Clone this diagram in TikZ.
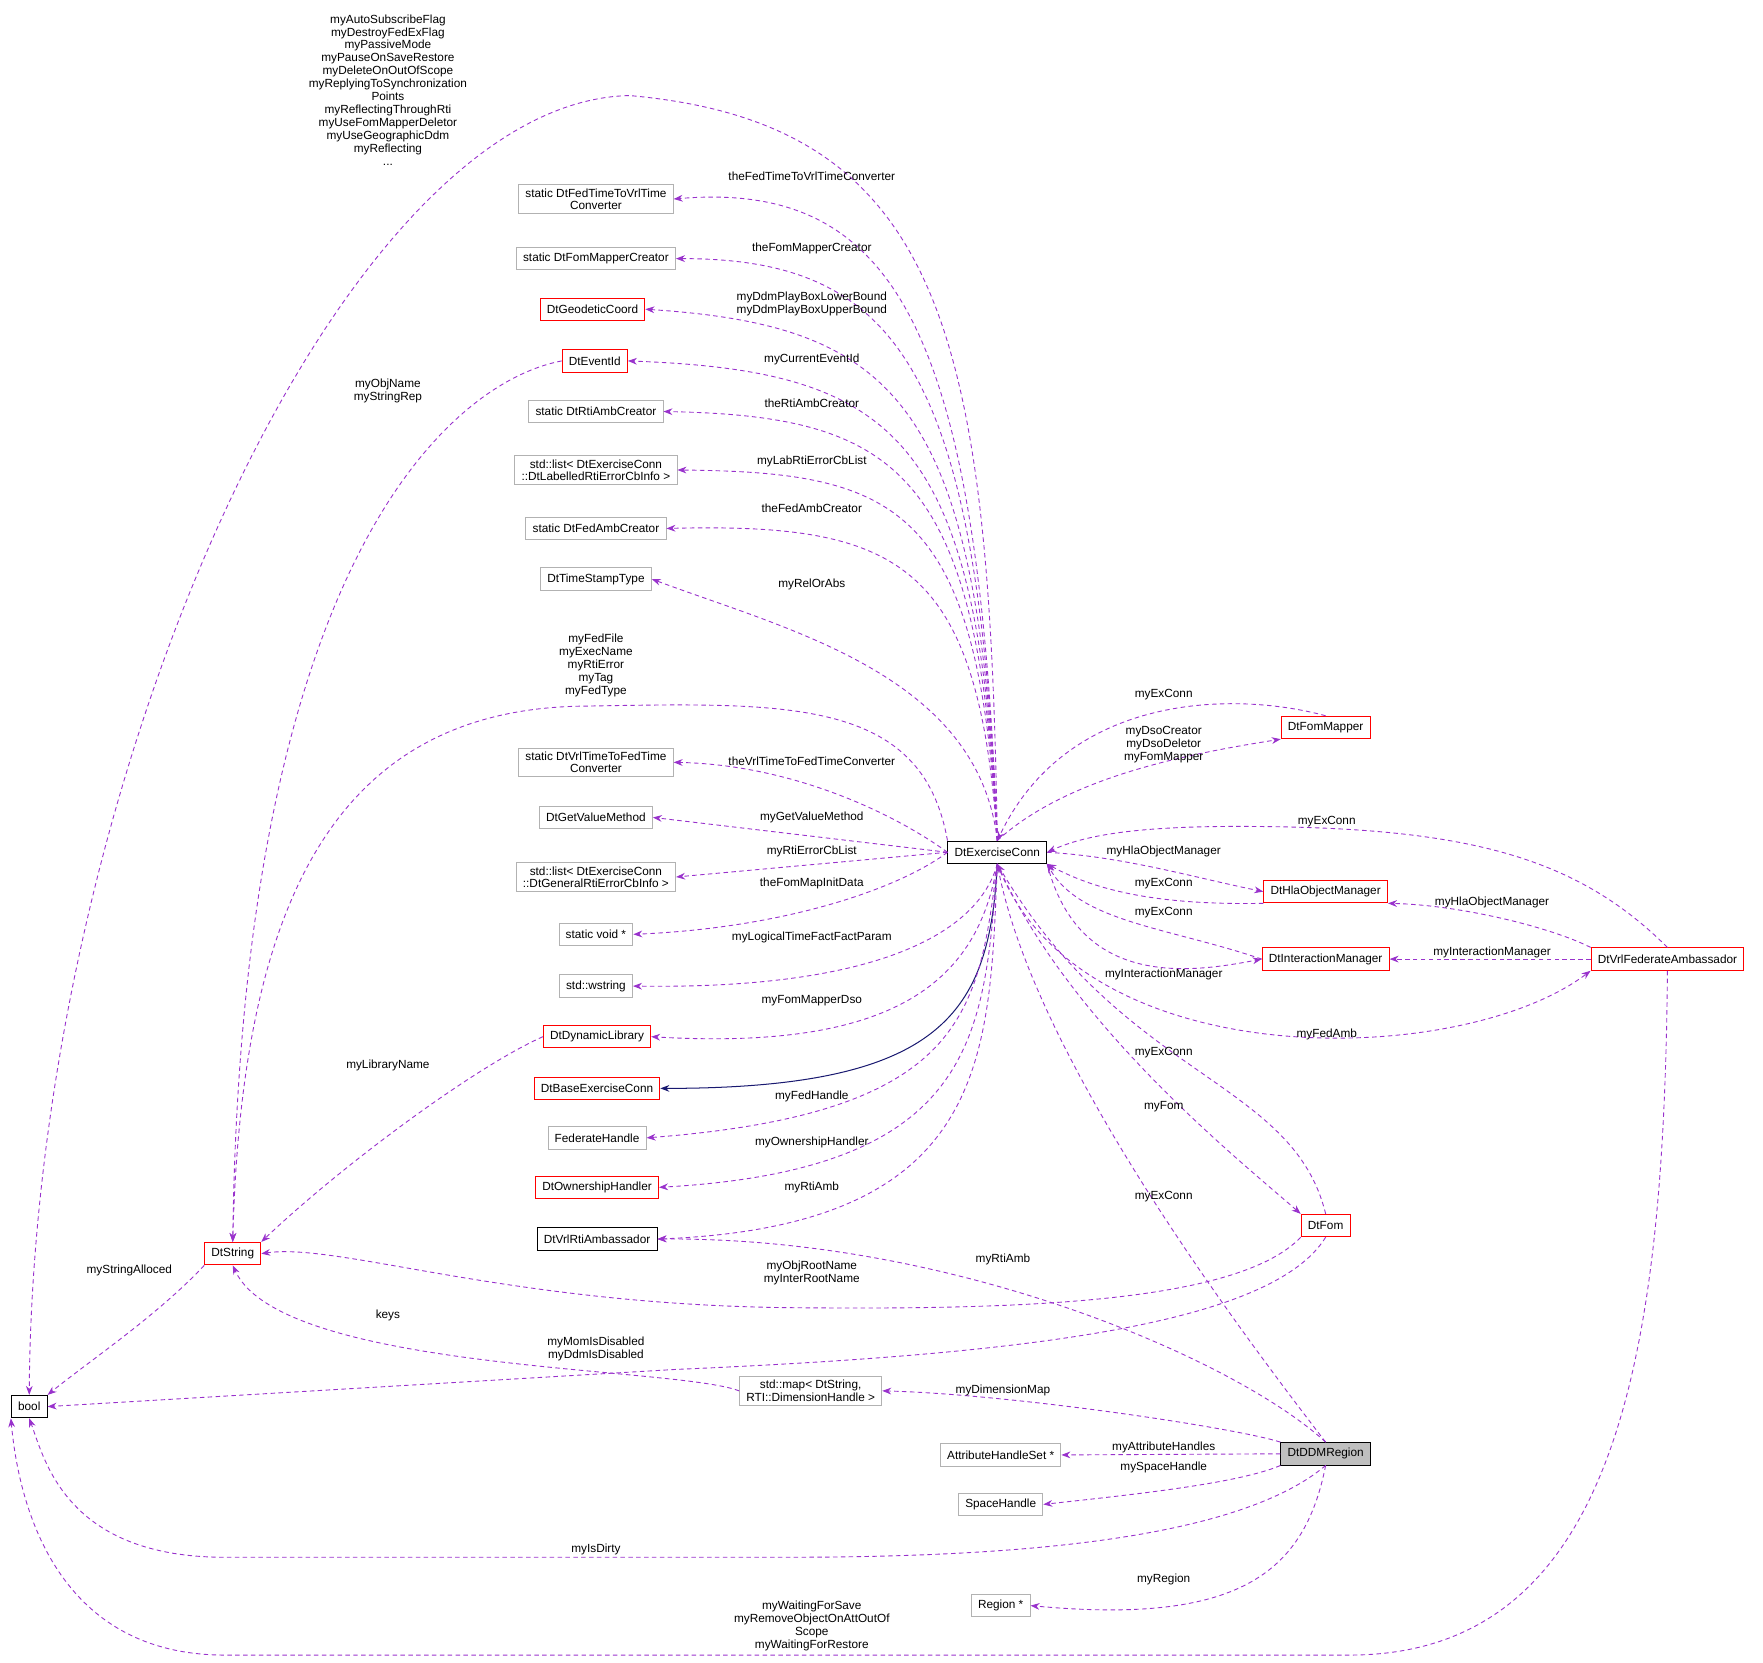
\documentclass[tikz,border=0pt]{standalone}
\usepackage{fontspec}
\setmainfont{Liberation Sans}
\usetikzlibrary{arrows.meta}
\begin{document}
\begin{tikzpicture}[x=1pt,y=-1pt,
  box/.style={draw=#1,fill=white,inner xsep=6pt,minimum height=20pt,align=center,font=\fontsize{10.5}{11}\selectfont,line width=0.8pt},
  box/.default=black!30,
  dep/.style={draw={rgb,255:red,153;green,50;blue,204},dashed,line width=0.8pt,dash pattern=on 4pt off 3pt,-{Stealth[length=8pt,width=6pt]}},
  inh/.style={draw={rgb,255:red,25;green,25;blue,112},line width=0.9pt,-{Stealth[length=8pt,width=6pt]}},
  lbl/.style={font=\fontsize{10.5}{11.5}\selectfont,align=center,inner sep=0pt}]
\useasboundingbox (0,0) rectangle (1568,1479);
% nodes
\node[box=black] (bool) at (26,1251) {bool};
\node[box=red] (str) at (207,1115) {DtString};
\node[box=black] (ex) at (887,758) {DtExerciseConn};
\node[box] (n1) at (530,177) {static DtFedTimeToVrlTime\\Converter};
\node[box] (n2) at (530,230) {static DtFomMapperCreator};
\node[box=red] (n3) at (527,275) {DtGeodeticCoord};
\node[box=red] (ev) at (529,321) {DtEventId};
\node[box] (n5) at (530,366) {static DtRtiAmbCreator};
\node[box] (n6) at (530,418) {std::list< DtExerciseConn\\::DtLabelledRtiErrorCbInfo >};
\node[box] (n7) at (530,470) {static DtFedAmbCreator};
\node[box] (n8) at (530,515) {DtTimeStampType};
\node[box] (n9) at (530,678) {static DtVrlTimeToFedTime\\Converter};
\node[box] (n10) at (530,727) {DtGetValueMethod};
\node[box] (n11) at (530,780) {std::list< DtExerciseConn\\::DtGeneralRtiErrorCbInfo >};
\node[box] (n12) at (530,831) {static void *};
\node[box] (n13) at (530,877) {std::wstring};
\node[box=red] (dyn) at (531,922) {DtDynamicLibrary};
\node[box=red] (base) at (531,968) {DtBaseExerciseConn};
\node[box] (fh) at (531,1012) {FederateHandle};
\node[box=red] (own) at (531,1056) {DtOwnershipHandler};
\node[box=black] (vra) at (531,1102) {DtVrlRtiAmbassador};
\node[box] (map) at (721,1237) {std::map< DtString,\\ RTI::DimensionHandle >};
\node[box] (attr) at (890,1294) {AttributeHandleSet *};
\node[box] (space) at (890,1338) {SpaceHandle};
\node[box] (reg) at (890,1428) {Region *};
\node[box=black,fill=black!25] (ddm) at (1179,1293) {DtDDMRegion};
\node[box=red] (fm) at (1179,647) {DtFomMapper};
\node[box=red] (hla) at (1179,793) {DtHlaObjectManager};
\node[box=red] (im) at (1179,853) {DtInteractionManager};
\node[box=red] (vfa) at (1483,853) {DtVrlFederateAmbassador};
\node[box=red] (fom) at (1179,1090) {DtFom};
% edges ExConn -> left column
\draw[dep] (ex.north) .. controls (880,300) and (840,110) .. (560,85) .. controls (300,90) and (30,700) .. (bool.north);
\draw[dep] (ex.north) .. controls (870,300) and (800,160) .. (n1.east);
\draw[dep] (ex.north) .. controls (870,330) and (800,230) .. (n2.east);
\draw[dep] (ex.north) .. controls (870,360) and (800,290) .. (n3.east);
\draw[dep] (ex.north) .. controls (870,390) and (800,330) .. (ev.east);
\draw[dep] (ex.north) .. controls (870,420) and (800,370) .. (n5.east);
\draw[dep] (ex.north) .. controls (870,450) and (800,420) .. (n6.east);
\draw[dep] (ex.north) .. controls (870,500) and (800,465) .. (n7.east);
\draw[dep] (ex.north) .. controls (870,600) and (700,560) .. (n8.east);
\draw[dep] (ex.north west) .. controls (820,620) and (700,625) .. (520,628) .. controls (300,630) and (215,800) .. (str.north);
\draw[dep] (ex.west) .. controls (790,720) and (700,680) .. (n9.east);
\draw[dep] (ex.west) -- (n10.east);
\draw[dep] (ex.west) -- (n11.east);
\draw[dep] (ex.west) .. controls (800,790) and (700,825) .. (n12.east);
\draw[dep] (ex.south) .. controls (870,830) and (780,880) .. (n13.east);
\draw[dep] (ex.south) .. controls (870,870) and (800,935) .. (dyn.east);
\draw[inh] (ex.south) .. controls (880,900) and (840,968) .. (base.east);
\draw[dep] (ex.south) .. controls (870,900) and (860,990) .. (fh.east);
\draw[dep] (ex.south) .. controls (875,920) and (870,1040) .. (own.east);
\draw[dep] (ex.south) .. controls (880,940) and (880,1090) .. (vra.east);
% DtString related
\draw[dep] (ev.west) .. controls (400,340) and (215,500) .. (str.north);
\draw[dep] (dyn.west) .. controls (420,950) and (300,1040) .. (str.north east);
\draw[dep] (str.south west) .. controls (140,1170) and (80,1210) .. (bool.north east);
\draw[dep] (fom.south west) .. controls (1100,1160) and (900,1165) .. (700,1163) .. controls (450,1160) and (300,1105) .. (str.east);
\draw[dep] (map.west) .. controls (600,1215) and (250,1220) .. (str.south);
\draw[dep] (fom.south) .. controls (1130,1180) and (900,1205) .. (600,1218) -- (bool.east);
% right side
\draw[dep] (fm.north) .. controls (1100,615) and (950,615) .. (ex.north);
\draw[dep] (ex.north) .. controls (950,690) and (1060,670) .. (fm.south west);
\draw[dep] (vfa.north) .. controls (1400,760) and (1300,735) .. (1100,735) .. controls (1000,735) and (960,745) .. (ex.east);
\draw[dep] (ex.east) .. controls (1000,762) and (1060,780) .. (hla.west);
\draw[dep] (hla.south west) .. controls (1040,805) and (980,795) .. (ex.south east);
\draw[dep] (im.west) .. controls (1040,825) and (960,820) .. (ex.south east);
\draw[dep] (ex.south east) .. controls (960,880) and (1060,865) .. (im.west);
\draw[dep] (vfa.north west) .. controls (1380,825) and (1300,805) .. (hla.south east);
\draw[dep] (vfa.west) -- (im.east);
\draw[dep] (ex.south) .. controls (960,960) and (1300,950) .. (vfa.south west);
\draw[dep] (fom.north) .. controls (1150,960) and (1000,960) .. (ex.south);
\draw[dep] (ex.south) .. controls (950,910) and (1100,1030) .. (fom.north west);
% DDM
\draw[dep] (ddm.north) .. controls (1100,1180) and (920,940) .. (ex.south);
\draw[dep] (ddm.north) .. controls (1100,1210) and (850,1100) .. (vra.east);
\draw[dep] (ddm.north west) .. controls (1100,1270) and (900,1240) .. (map.east);
\draw[dep] (ddm.west) -- (attr.east);
\draw[dep] (ddm.south west) .. controls (1100,1320) and (1000,1330) .. (space.east);
\draw[dep] (ddm.south) .. controls (1100,1370) and (900,1385) .. (700,1385) -- (200,1385) .. controls (60,1385) and (40,1300) .. (bool.south);
\draw[dep] (ddm.south) .. controls (1160,1400) and (1100,1445) .. (reg.east);
\draw[dep] (vfa.south) .. controls (1480,1200) and (1440,1472) .. (1200,1472) -- (200,1472) .. controls (40,1472) and (15,1320) .. (bool.south west);
% labels
\node[lbl] (l1) at (345,80) {myAutoSubscribeFlag\\myDestroyFedExFlag\\myPassiveMode\\myPauseOnSaveRestore\\myDeleteOnOutOfScope\\myReplyingToSynchronization\\Points\\myReflectingThroughRti\\myUseFomMapperDeletor\\myUseGeographicDdm\\myReflecting\\...};
\node[lbl] (l2) at (722,157) {theFedTimeToVrlTimeConverter};
\node[lbl] (l3) at (722,221) {theFomMapperCreator};
\node[lbl] (l4) at (722,270) {myDdmPlayBoxLowerBound\\myDdmPlayBoxUpperBound};
\node[lbl] (l5) at (722,320) {myCurrentEventId};
\node[lbl] (l6) at (722,359) {theRtiAmbCreator};
\node[lbl] (l7) at (722,410) {myLabRtiErrorCbList};
\node[lbl] (l8) at (722,452) {theFedAmbCreator};
\node[lbl] (l9) at (722,520) {myRelOrAbs};
\node[lbl] (l10) at (530,592) {myFedFile\\myExecName\\myRtiError\\myTag\\myFedType};
\node[lbl] (l11) at (722,677) {theVrlTimeToFedTimeConverter};
\node[lbl] (l12) at (722,727) {myGetValueMethod};
\node[lbl] (l13) at (722,757) {myRtiErrorCbList};
\node[lbl] (l14) at (722,786) {theFomMapInitData};
\node[lbl] (l15) at (722,834) {myLogicalTimeFactFactParam};
\node[lbl] (l16) at (722,890) {myFomMapperDso};
\node[lbl] (l17) at (722,975) {myFedHandle};
\node[lbl] (l18) at (722,1016) {myOwnershipHandler};
\node[lbl] (l19) at (722,1056) {myRtiAmb};
\node[lbl] (l20) at (345,348) {myObjName\\myStringRep};
\node[lbl] (l21) at (345,948) {myLibraryName};
\node[lbl] (l22) at (115,1130) {myStringAlloced};
\node[lbl] (l23) at (722,1132) {myObjRootName\\myInterRootName};
\node[lbl] (l24) at (345,1170) {keys};
\node[lbl] (l25) at (530,1200) {myMomIsDisabled\\myDdmIsDisabled};
\node[lbl] (l26) at (1035,618) {myExConn};
\node[lbl] (l27) at (1035,662) {myDsoCreator\\myDsoDeletor\\myFomMapper};
\node[lbl] (l28) at (1180,731) {myExConn};
\node[lbl] (l29) at (1035,757) {myHlaObjectManager};
\node[lbl] (l30) at (1035,786) {myExConn};
\node[lbl] (l31) at (1035,812) {myExConn};
\node[lbl] (l32) at (1035,867) {myInteractionManager};
\node[lbl] (l33) at (1327,803) {myHlaObjectManager};
\node[lbl] (l34) at (1327,847) {myInteractionManager};
\node[lbl] (l35) at (1180,920) {myFedAmb};
\node[lbl] (l36) at (1035,936) {myExConn};
\node[lbl] (l37) at (1035,984) {myFom};
\node[lbl] (l38) at (1035,1064) {myExConn};
\node[lbl] (l39) at (892,1120) {myRtiAmb};
\node[lbl] (l40) at (892,1237) {myDimensionMap};
\node[lbl] (l41) at (1035,1287) {myAttributeHandles};
\node[lbl] (l42) at (1035,1305) {mySpaceHandle};
\node[lbl] (l43) at (530,1378) {myIsDirty};
\node[lbl] (l44) at (1035,1405) {myRegion};
\node[lbl] (l45) at (722,1446) {myWaitingForSave\\myRemoveObjectOnAttOutOf\\Scope\\myWaitingForRestore};
\end{tikzpicture}
\end{document}
